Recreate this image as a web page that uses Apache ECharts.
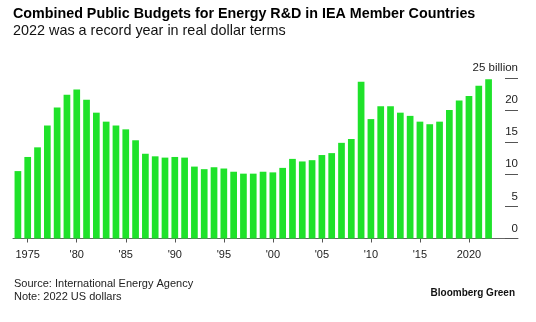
<!DOCTYPE html>
<html>
<head>
<meta charset="utf-8">
<script src="https://cdn.jsdelivr.net/npm/echarts@6/dist/echarts.min.js"></script>
<style>
html,body{margin:0;padding:0;background:#fff;}
#chart{width:536px;height:322px;}
</style>
</head>
<body>
<div id="chart"></div>
<script>
var years = [1974,1975,1976,1977,1978,1979,1980,1981,1982,1983,1984,1985,1986,1987,1988,1989,1990,1991,1992,1993,1994,1995,1996,1997,1998,1999,2000,2001,2002,2003,2004,2005,2006,2007,2008,2009,2010,2011,2012,2013,2014,2015,2016,2017,2018,2019,2020,2021,2022];
var budgets = [10.5,12.7,14.2,17.6,20.4,22.4,23.2,21.6,19.6,18.2,17.6,17.0,15.3,13.2,12.8,12.6,12.7,12.6,11.2,10.8,11.1,10.9,10.4,10.1,10.1,10.4,10.3,11.0,12.4,12.0,12.2,13.0,13.3,14.9,15.5,24.4,18.6,20.6,20.6,19.6,19.1,18.2,17.8,18.2,20.0,21.5,22.2,23.8,24.8];
var xTickYears = [1975,1980,1985,1990,1995,2000,2005,2010,2015,2020];
var xTickLabels = ['1975',"'80","'85","'90","'95","'00","'05","'10","'15",'2020'];
var yTicks = [0,5,10,15,20,25];
var yTickLabels = ['0','5','10','15','20','25 billion'];

var FONT = '"Liberation Sans", Arial, sans-serif';
var chart = echarts.init(document.getElementById('chart'), null, {renderer:'canvas'});
var seriesData = years.map(function(y,i){ return [y, budgets[i]]; });

chart.setOption({
  animation: false,
  backgroundColor: '#ffffff',
  title: [
    {
      text: 'Combined Public Budgets for Energy R&D in IEA Member Countries',
      subtext: '2022 was a record year in real dollar terms',
      left: 13, top: 7, itemGap: 3, padding: 0,
      textStyle: {fontFamily: FONT, fontSize: 14.3, fontWeight: 'bold', color: '#000'},
      subtextStyle: {fontFamily: FONT, fontSize: 14.4, color: '#111'}
    },
    {
      text: 'Source: International Energy Agency\nNote: 2022 US dollars',
      left: 14, top: 278, padding: 0,
      textStyle: {fontFamily: FONT, fontSize: 11, fontWeight: 'normal', color: '#222', lineHeight: 12.5}
    },
    {
      text: 'Bloomberg Green',
      right: 21, top: 288, padding: 0,
      textStyle: {fontFamily: FONT, fontSize: 10, fontWeight: 'bold', color: '#111'}
    }
  ],
  grid: {left: 13, right: 18, top: 78, bottom: 83.5, containLabel: false},
  xAxis: {
    type: 'value', min: 1973.5, max: 2025,
    axisLine: {show: true, lineStyle: {color: '#666', width: 1}},
    axisTick: {show: true, customValues: xTickYears, length: 4, lineStyle: {color: '#555'}},
    axisLabel: {show: true, customValues: xTickYears, margin: 11,
      fontFamily: FONT, fontSize: 11, color: '#222',
      formatter: function(v){ var i = xTickYears.indexOf(v); return i >= 0 ? xTickLabels[i] : ''; }},
    splitLine: {show: false}
  },
  yAxis: {
    type: 'value', position: 'right', min: 0, max: 25, interval: 5,
    axisLine: {show: false},
    axisTick: {show: true, inside: true, length: 13, lineStyle: {color: '#555'}},
    axisLabel: {show: true, inside: true, margin: 0, align: 'right', verticalAlign: 'bottom',
      padding: [0,0,4,0], fontFamily: FONT, fontSize: 11.5, color: '#222',
      formatter: function(v){ var i = yTicks.indexOf(v); return i >= 0 ? yTickLabels[i] : ''; }},
    splitLine: {show: false}
  },
  series: [{
    type: 'bar',
    data: seriesData,
    barWidth: 6.7,
    itemStyle: {color: '#1fe22a'},
    emphasis: {disabled: true}
  }]
});
</script>
</body>
</html>
